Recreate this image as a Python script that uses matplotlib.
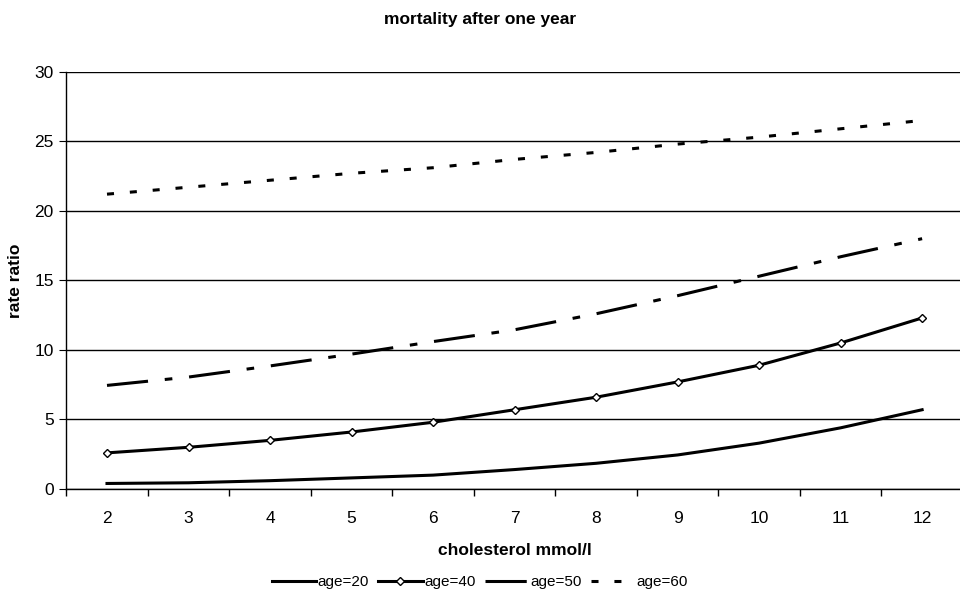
import matplotlib.pyplot as plt
import numpy as np

plt.rcParams['font.family'] = ['Liberation Sans', 'DejaVu Sans']

# cholesterol levels (mmol/l) and rate ratios per age group
cholesterol = [2, 3, 4, 5, 6, 7, 8, 9, 10, 11, 12]
age20 = [0.4, 0.45, 0.6, 0.8, 1.0, 1.4, 1.85, 2.45, 3.3, 4.4, 5.7]
age40 = [2.6, 3.0, 3.5, 4.1, 4.8, 5.7, 6.6, 7.7, 8.9, 10.5, 12.3]
age50 = [7.45, 8.05, 8.85, 9.7, 10.6, 11.45, 12.6, 13.9, 15.3, 16.7, 18.0]
age60 = [21.2, 21.7, 22.2, 22.7, 23.1, 23.7, 24.2, 24.8, 25.3, 25.9, 26.5]
labels = ['age=20', 'age=40', 'age=50', 'age=60']

fig = plt.figure(figsize=(9.6, 6.03), dpi=100)
ax = fig.add_axes([0.069, 0.189, 0.934, 0.692])

x = np.arange(len(cholesterol))
lw = 2.2
ax.plot(x, age20, color='black', lw=lw, label=labels[0])
ax.plot(x, age40, color='black', lw=lw, marker='D', ms=4,
        mfc='white', mec='black', mew=1, label=labels[1])
ax.plot(x, age50, color='black', lw=lw, dashes=(13.5, 5.5, 2.5, 5.5), label=labels[2])
ax.plot(x, age60, color='black', lw=lw, dashes=(2.3, 5.2), label=labels[3])

ax.set_xlim(-0.5, len(cholesterol) - 0.5)
ax.set_ylim(0, 30)
ax.set_yticks(range(0, 31, 5))
ax.set_xticks(x)
ax.set_xticklabels([str(c) for c in cholesterol])
ax.set_xticks(np.arange(-0.5, len(cholesterol), 1), minor=True)
ax.tick_params(axis='x', which='major', length=0, labelsize=12.5, pad=16)
ax.tick_params(axis='x', which='minor', length=5, direction='out', width=1)
ax.tick_params(axis='y', length=5, direction='out', labelsize=12.5, pad=4)

ax.yaxis.grid(True, color='black', lw=1)
ax.set_axisbelow(True)
for s in ['top', 'right']:
    ax.spines[s].set_visible(False)
ax.spines['left'].set_linewidth(1)
ax.spines['bottom'].set_linewidth(1)

ax.set_xlabel('cholesterol mmol/l', fontsize=12.5, fontweight='bold', labelpad=12)
ax.set_ylabel('rate ratio', fontsize=12.5, fontweight='bold', labelpad=8)
fig.text(0.5, 0.968, 'mortality after one year', ha='center', va='center',
         fontsize=12.5, fontweight='bold')

fig.legend(loc='center', bbox_to_anchor=(0.5, 0.035), ncol=4, frameon=False,
           fontsize=11, handlelength=2.9, handletextpad=0.1, columnspacing=0.6)

fig.savefig('out.png', dpi=100)
